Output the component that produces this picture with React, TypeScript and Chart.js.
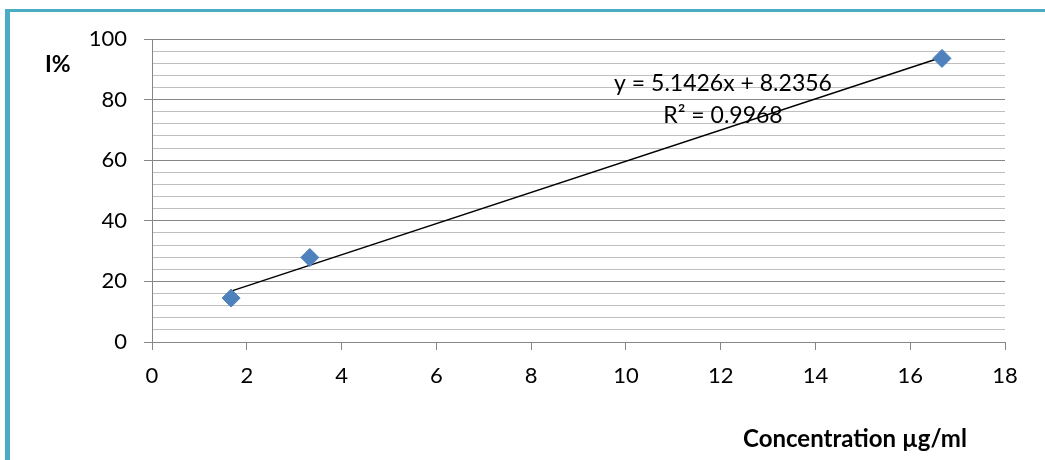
import React, { useEffect, useRef } from "react";
import { Chart, registerables } from "chart.js";

Chart.register(...registerables);

// Data
const concentrations = [1.67, 3.33, 16.67];
const inhibition = [14.5, 27.9, 93.6];
const trendX = [1.67, 16.67];
const trendY = [16.8, 94.0];
const xTicks = [0, 2, 4, 6, 8, 10, 12, 14, 16, 18];
const yMajorTicks = [0, 20, 40, 60, 80, 100];
const equationText = "y = 5.1426x + 8.2356";
const rSquaredText = "R² = 0.9968";
const yTitle = "I%";
const xTitle = "Concentration µg/ml";

const FONT = "Lato, 'Open Sans', sans-serif";

const textPlugin = {
  id: "extraText",
  afterDraw(chart: any) {
    const ctx = chart.ctx;
    ctx.save();
    ctx.fillStyle = "#000";
    ctx.textBaseline = "middle";
    ctx.font = `bold 23px ${FONT}`;
    ctx.textAlign = "left";
    ctx.fillText(yTitle, 45, 65);
    ctx.textAlign = "center";
    ctx.font = `bold 24px ${FONT}`;
    ctx.fillText(xTitle, 855, 439);
    ctx.font = `23px ${FONT}`;
    ctx.fillText(equationText, 723, 84);
    ctx.fillText(rSquaredText, 723, 116);
    ctx.restore();
  },
};

export default function App() {
  const ref = useRef<HTMLCanvasElement>(null);
  useEffect(() => {
    if (!ref.current) return;
    const chart = new Chart(ref.current, {
      type: "scatter",
      data: {
        datasets: [
          {
            type: "line",
            label: "trend",
            data: trendX.map((x, i) => ({ x, y: trendY[i] })),
            borderColor: "#000",
            borderWidth: 1.5,
            pointRadius: 0,
            fill: false,
            order: 2,
          } as any,
          {
            label: "I%",
            data: concentrations.map((x, i) => ({ x, y: inhibition[i] })),
            pointStyle: "rectRot",
            pointRadius: 9,
            backgroundColor: "#4F81BD",
            borderColor: "#4A7EBB",
            borderWidth: 1,
            order: 1,
          },
        ],
      },
      options: {
        animation: false,
        responsive: false,
        devicePixelRatio: 1,
        layout: { padding: { left: 0, right: 40, top: 39, bottom: 0 } },
        plugins: { legend: { display: false }, tooltip: { enabled: false } },
        scales: {
          x: {
            type: "linear",
            min: 0,
            max: 18,
            afterFit: (s: any) => {
              s.height = 118;
            },
            afterBuildTicks: (s: any) => {
              s.ticks = xTicks.map((v) => ({ value: v }));
            },
            ticks: {
              color: "#000",
              font: { family: FONT, size: 22 },
              padding: 13,
              autoSkip: false,
              maxRotation: 0,
            },
            grid: {
              drawOnChartArea: false,
              drawTicks: true,
              tickLength: 8,
              tickColor: "#868686",
              tickWidth: 1,
            },
            border: { display: true, color: "#868686", width: 1 },
          },
          y: {
            type: "linear",
            min: 0,
            max: 100,
            afterFit: (s: any) => {
              s.width = 152;
            },
            ticks: {
              stepSize: 4,
              autoSkip: false,
              color: "#000",
              font: { family: FONT, size: 22 },
              padding: 17,
              callback: (v: any) => (yMajorTicks.includes(Number(v)) ? String(v) : ""),
            },
            grid: {
              color: (c: any) =>
                yMajorTicks.includes(c.tick?.value) ? "#868686" : "#BFBFBF",
              tickColor: (c: any) =>
                yMajorTicks.includes(c.tick?.value) ? "#868686" : "rgba(0,0,0,0)",
              tickLength: 8,
              lineWidth: 1,
            },
            border: { display: true, color: "#868686", width: 1 },
          },
        },
      },
      plugins: [textPlugin],
    });
    return () => chart.destroy();
  }, []);

  return (
    <div style={{ position: "fixed", left: 0, top: 0, width: 1045, height: 460, background: "#fff" }}>
      <div
        style={{
          position: "absolute",
          left: 5,
          top: 9,
          right: 0,
          bottom: 0,
          borderLeft: "5px solid #4BACC6",
          borderTop: "3px solid #4BACC6",
        }}
      />
      <canvas
        ref={ref}
        width={1045}
        height={460}
        style={{ position: "absolute", left: 0, top: 0, width: 1045, height: 460 }}
      />
    </div>
  );
}
